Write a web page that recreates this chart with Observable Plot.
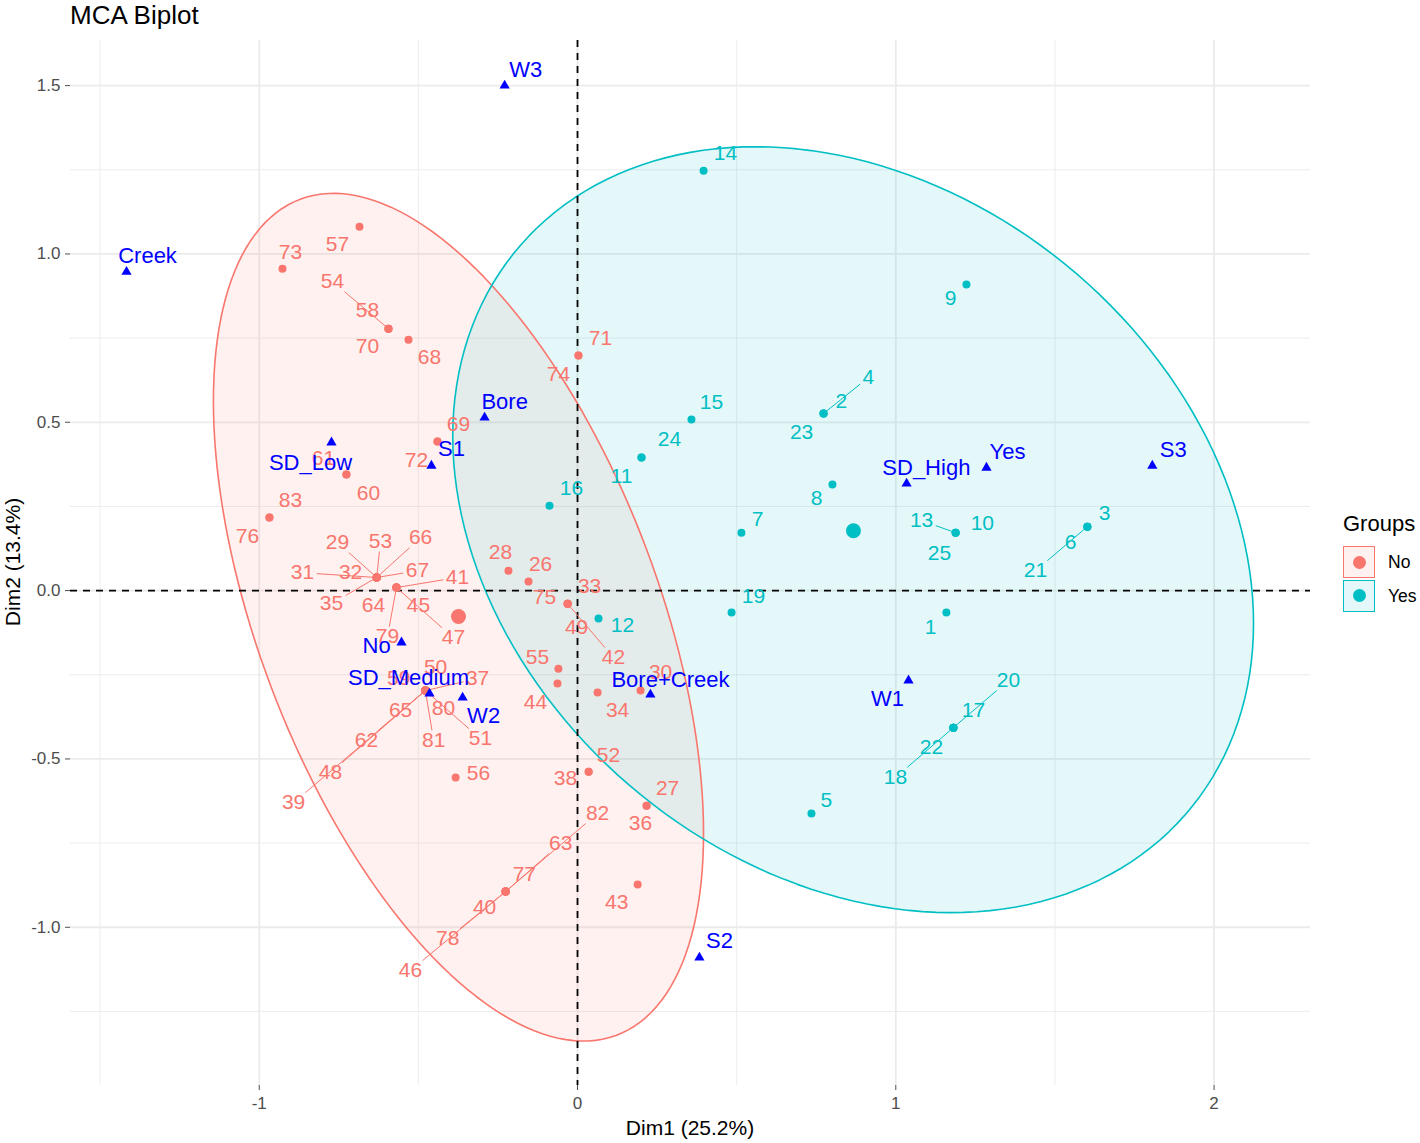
<!DOCTYPE html>
<html><head><meta charset="utf-8">
<script src="https://cdn.jsdelivr.net/npm/d3@7"></script>
<script src="https://cdn.jsdelivr.net/npm/@observablehq/plot@0.6"></script>
<style>
body{margin:0;background:#fff;font-family:"Liberation Sans",Arial,Helvetica,sans-serif;}
#wrap{position:relative;width:1420px;height:1143px;overflow:hidden;background:#fff}
#chart{position:absolute;left:0;top:0}
.abs{position:absolute;white-space:nowrap}
.title{left:70px;top:0px;font-size:26px;line-height:30px;color:#000}
.xlab{left:690px;top:1128px;transform:translate(-50%,-50%);font-size:21px;color:#000}
.ylab{left:13px;top:562px;transform:translate(-50%,-50%) rotate(-90deg);font-size:21px;color:#000}
.lt{left:1343px;top:511px;font-size:22px;line-height:26px;color:#000}
.box{width:30px;height:30px;border:1.5px solid;box-sizing:content-box}
.dot{position:absolute;width:13px;height:13px;border-radius:50%;left:8.5px;top:8.5px}
.kl{font-size:17.5px;line-height:20px;color:#000}
</style></head><body>
<div id="wrap"><div id="chart"></div></div>
<script>
// ---------------- data ----------------
const groupNames = ["No", "Yes"];
const groupColors = ["#F8766D", "#00BFC4"];

const indLabel = d3.range(1, 84);
const indGroup = [
 "Yes","Yes","Yes","Yes","Yes","Yes","Yes","Yes","Yes","Yes",
 "Yes","Yes","Yes","Yes","Yes","Yes","Yes","Yes","Yes","Yes",
 "Yes","Yes","Yes","Yes","Yes","No","No","No","No","No",
 "No","No","No","No","No","No","No","No","No","No",
 "No","No","No","No","No","No","No","No","No","No",
 "No","No","No","No","No","No","No","No","No","No",
 "No","No","No","No","No","No","No","No","No","No",
 "No","No","No","No","No","No","No","No","No","No",
 "No","No","No"];
const indX = [
 1.159,0.773,1.602,0.773,0.735,1.602,0.515,0.801,1.222,1.188,
 0.201,0.066,1.188,0.396,0.358,-0.088,1.181,1.181,0.484,1.181,
 1.602,1.181,0.773,0.201,1.188,-0.154,0.217,-0.217,-0.631,0.198,
 -0.631,-0.631,-0.031,0.063,-0.631,0.217,-0.478,0.035,-0.478,-0.226,
 -0.569,-0.031,0.189,-0.063,-0.569,-0.226,-0.569,-0.478,-0.031,-0.478,
 -0.478,0.035,-0.631,-0.594,-0.060,-0.383,-0.685,-0.594,-0.478,-0.726,
 -0.726,-0.478,-0.226,-0.569,-0.478,-0.631,-0.631,-0.531,-0.440,-0.594,
 0.003,-0.440,-0.927,0.003,-0.031,-0.968,-0.226,-0.226,-0.569,-0.478,
 -0.478,-0.226,-0.968];
const indY = [
 -0.065,0.526,0.190,0.526,-0.662,0.190,0.172,0.315,0.909,0.172,
 0.395,-0.083,0.172,1.247,0.508,0.252,-0.407,-0.407,-0.065,-0.407,
 0.190,-0.407,0.526,0.395,0.172,0.027,-0.639,0.059,0.039,-0.297,
 0.039,0.039,-0.039,-0.303,0.039,-0.639,-0.297,-0.538,-0.297,-0.894,
 0.009,-0.039,-0.873,-0.276,0.009,-0.894,0.009,-0.297,-0.039,-0.297,
 -0.297,-0.538,0.039,0.778,-0.232,-0.555,1.081,0.778,-0.297,0.345,
 0.345,-0.297,-0.894,0.009,-0.297,0.039,0.039,0.745,0.443,0.778,
 0.698,0.443,0.956,0.698,-0.039,0.217,-0.894,-0.894,0.009,-0.297,
 -0.297,-0.894,0.217];
const indLabelX = [
 1.109,0.829,1.656,0.914,0.782,1.549,0.566,0.751,1.172,1.272,
 0.138,0.141,1.081,0.465,0.421,-0.019,1.244,0.999,0.553,1.354,
 1.439,1.112,0.704,0.289,1.137,-0.116,0.283,-0.242,-0.754,0.261,
 -0.864,-0.713,0.038,0.126,-0.773,0.198,-0.314,-0.038,-0.892,-0.292,
 -0.377,0.113,0.123,-0.132,-0.500,-0.525,-0.390,-0.776,-0.003,-0.446,
 -0.305,0.097,-0.619,-0.770,-0.126,-0.311,-0.754,-0.660,-0.562,-0.657,
 -0.798,-0.663,-0.053,-0.641,-0.556,-0.493,-0.503,-0.465,-0.374,-0.660,
 0.072,-0.506,-0.902,-0.060,-0.104,-1.037,-0.167,-0.408,-0.597,-0.421,
 -0.452,0.063,-0.902];
const indLabelY = [
 -0.110,0.561,0.229,0.633,-0.624,0.143,0.211,0.273,0.867,0.199,
 0.339,-0.104,0.208,1.298,0.558,0.303,-0.356,-0.555,-0.018,-0.267,
 0.059,-0.466,0.469,0.451,0.110,0.077,-0.588,0.113,0.143,-0.244,
 0.053,0.053,0.012,-0.356,-0.039,-0.692,-0.261,-0.558,-0.630,-0.941,
 0.039,-0.199,-0.927,-0.333,-0.045,-1.129,-0.140,-0.541,-0.110,-0.229,
 -0.440,-0.490,0.146,0.918,-0.199,-0.544,1.028,0.832,-0.261,0.288,
 0.392,-0.445,-0.751,-0.045,-0.356,0.157,0.059,0.692,0.493,0.725,
 0.751,0.386,1.004,0.644,-0.021,0.160,-0.843,-1.034,-0.137,-0.350,
 -0.445,-0.662,0.267];

const varNames = ["W3","Creek","Bore","SD_Low","S1","No","SD_Medium","W2","Bore+Creek","S2","W1","SD_High","Yes","S3"];
const varX = [-0.229,-1.417,-0.292,-0.773,-0.459,-0.553,-0.465,-0.361,0.229,0.383,1.040,1.034,1.285,1.806];
const varY = [1.500,0.947,0.514,0.440,0.371,-0.154,-0.306,-0.318,-0.309,-1.090,-0.267,0.318,0.365,0.371];
const varLabelX = [-0.163,-1.351,-0.229,-0.839,-0.396,-0.631,-0.531,-0.295,0.292,0.446,0.974,1.096,1.351,1.872];
const varLabelY = [1.547,0.995,0.561,0.380,0.422,-0.163,-0.258,-0.371,-0.264,-1.042,-0.321,0.365,0.413,0.419];

const centroidX = [-0.374, 0.867];
const centroidY = [-0.077, 0.178];

// concentration ellipses: centre and two conjugate semi-axes (data units)
const ellipseCenter = [[-0.374, -0.079], [0.866, 0.181]];
const ellipseAxisA  = [[0.770, -0.642], [1.258, -0.278]];
const ellipseAxisB  = [[0.000, 1.083], [0.000, 1.103]];

const xTicks = [-1, 0, 1, 2];
const yTicks = [-1.0, -0.5, 0.0, 0.5, 1.0, 1.5];
const xMinor = [-1.5, -0.5, 0.5, 1.5];
const yMinor = [-1.25, -0.75, -0.25, 0.25, 0.75, 1.25];
const xDomain = [-1.593, 2.303];
const yDomain = [-1.470, 1.634];

// ---------------- build ----------------
const W = 1420, H = 1143, ML = 70, MR = 110, MT = 40, MB = 58;
const colorOf = g => groupColors[groupNames.indexOf(g)];
const inds = indLabel.map((lab, i) => ({label: String(lab), group: indGroup[i], x: indX[i], y: indY[i], lx: indLabelX[i], ly: indLabelY[i]}));
const vars = varNames.map((n, i) => ({label: n, x: varX[i], y: varY[i], lx: varLabelX[i], ly: varLabelY[i]}));
const cents = groupNames.map((g, i) => ({group: g, x: centroidX[i], y: centroidY[i]}));

const sx = d3.scaleLinear(xDomain, [ML, W - MR]);
const sy = d3.scaleLinear(yDomain, [H - MB, MT]);
const FS_IND = 21, FS_VAR = 22;
const segs = [];
for (const d of inds) {
  const px = sx(d.x), py = sy(d.y), lx = sx(d.lx), ly = sy(d.ly);
  const w = d.label.length * FS_IND * 0.556 + 5, h = FS_IND * 0.72 + 5;
  const dx = px - lx, dy = py - ly;
  const tx = dx ? (w / 2) / Math.abs(dx) : Infinity;
  const ty = dy ? (h / 2) / Math.abs(dy) : Infinity;
  const t = Math.min(tx, ty);
  const len = (1 - t) * Math.hypot(dx, dy);
  if (t < 1 && len > 17) segs.push({group: d.group, x1: d.x, y1: d.y, x2: sx.invert(lx + dx * t), y2: sy.invert(ly + dy * t)});
}

const ellipses = groupNames.map((g, k) => d3.range(0, 360, 2).map(deg => {
  const t = deg * Math.PI / 180;
  return {group: g,
    x: ellipseCenter[k][0] + ellipseAxisA[k][0] * Math.cos(t) + ellipseAxisB[k][0] * Math.sin(t),
    y: ellipseCenter[k][1] + ellipseAxisA[k][1] * Math.cos(t) + ellipseAxisB[k][1] * Math.sin(t)};
}));

const fillMarks = ellipses.map((pts, k) => Plot.line(pts, {x: "x", y: "y", fill: groupColors[k], fillOpacity: 0.1, stroke: "none", curve: "linear-closed"}));
const strokeMarks = ellipses.map((pts, k) => Plot.line(pts, {x: "x", y: "y", stroke: groupColors[k], strokeWidth: 1.6, fill: "none", curve: "linear-closed"}));

const chart = Plot.plot({
  width: W, height: H,
  marginLeft: ML, marginRight: MR, marginTop: MT, marginBottom: MB,
  style: {fontFamily: "'Liberation Sans', Arial, Helvetica, sans-serif", fontSize: "17px", color: "#4d4d4d", background: "white", overflow: "visible"},
  x: {domain: xDomain, ticks: xTicks, tickFormat: d => String(d), tickSize: 5, tickPadding: 6, label: null},
  y: {domain: yDomain, ticks: yTicks, tickFormat: d => d.toFixed(1), tickSize: 5, tickPadding: 5, label: null},
  marks: [
    Plot.ruleX(xMinor, {stroke: "#ebebeb", strokeWidth: 0.9}),
    Plot.ruleY(yMinor, {stroke: "#ebebeb", strokeWidth: 0.9}),
    Plot.ruleX(xTicks, {stroke: "#ebebeb", strokeWidth: 1.8}),
    Plot.ruleY(yTicks, {stroke: "#ebebeb", strokeWidth: 1.8}),
    ...fillMarks,
    ...strokeMarks,
    Plot.ruleX([0], {stroke: "#000", strokeWidth: 1.8, strokeDasharray: "7,6"}),
    Plot.ruleY([0], {stroke: "#000", strokeWidth: 1.8, strokeDasharray: "7,6"}),
    Plot.dot(inds, {x: "x", y: "y", r: 4, fill: d => colorOf(d.group), stroke: "none"}),
    Plot.dot(cents, {x: "x", y: "y", r: 7.5, fill: d => colorOf(d.group), stroke: "none"}),
    Plot.link(segs, {x1: "x1", y1: "y1", x2: "x2", y2: "y2", stroke: d => colorOf(d.group), strokeWidth: 1}),
    Plot.text(inds, {x: "lx", y: "ly", text: "label", fill: d => colorOf(d.group), fontSize: FS_IND}),
    Plot.dot(vars, {x: "x", y: "y", symbol: "triangle", r: 3.8, fill: "#0000FF", stroke: "none"}),
    Plot.text(vars, {x: "lx", y: "ly", text: "label", fill: "#0000FF", fontSize: FS_VAR})
  ]
});
const wrap = document.getElementById("wrap");
document.getElementById("chart").appendChild(chart);

function addDiv(cls, text, style) {
  const el = document.createElement("div");
  el.className = "abs " + cls;
  if (text != null) el.textContent = text;
  if (style) Object.assign(el.style, style);
  wrap.appendChild(el);
  return el;
}
addDiv("title", "MCA Biplot");
addDiv("xlab", "Dim1 (25.2%)");
addDiv("ylab", "Dim2 (13.4%)");
addDiv("lt", "Groups");
groupNames.forEach((g, i) => {
  const top = 546 + i * 33.5;
  const c = groupColors[i];
  const box = addDiv("box", null, {left: "1343px", top: top + "px", borderColor: c, background: d3.color(c).copy({opacity: 0.1}).formatRgb()});
  const dot = document.createElement("div");
  dot.className = "dot"; dot.style.background = c;
  box.appendChild(dot);
  addDiv("kl", g, {left: "1388px", top: (top + 6) + "px"});
});
</script>
</body></html>
